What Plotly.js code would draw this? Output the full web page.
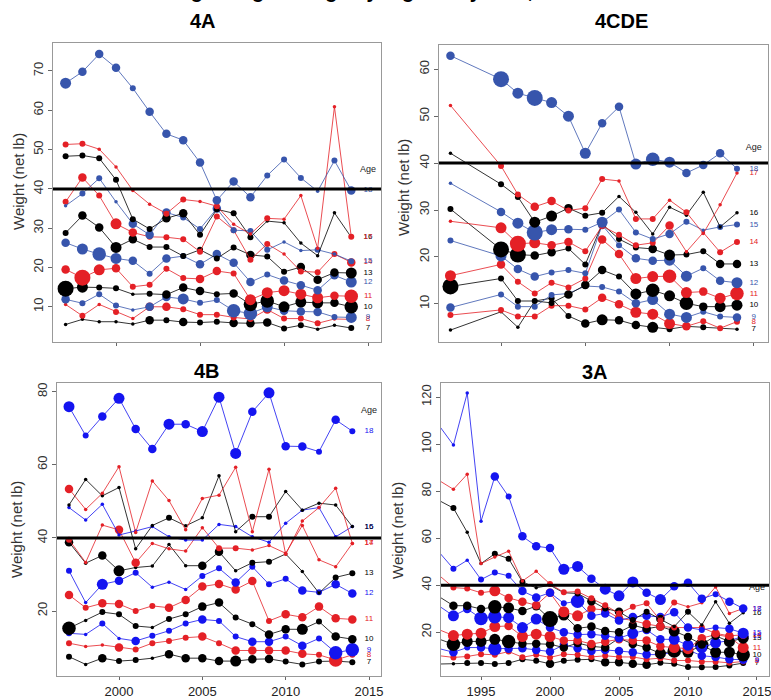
<!DOCTYPE html>
<html><head><meta charset="utf-8">
<script src="https://cdn.plot.ly/plotly-3.0.1.min.js"></script>
<style>html,body{margin:0;padding:0;background:#fff;}#chart{width:771px;height:700px;}</style>
</head><body><div id="chart"></div>
<script>
// ---------------- DATA ----------------
const ages = [7, 8, 9, 10, 11, 12, 13, 14, 15, 16, 17, 18];

const years4A = [1997,1998,1999,2000,2001,2002,2003,2004,2005,2006,2007,2008,2009,2010,2011,2012,2013,2014];
const years4CDE = [1997,2000,2001,2002,2003,2004,2005,2006,2007,2008,2009,2010,2011,2012,2013,2014];
const years4B = [1997,1998,1999,2000,2001,2002,2003,2004,2005,2006,2007,2008,2009,2010,2011,2012,2013,2014];
const years3A = [1992,1993,1994,1995,1996,1997,1998,1999,2000,2001,2002,2003,2004,2005,2006,2007,2008,2009,2010,2011,2012,2013,2014];

// weights (net lb), one row per age 7..18
const weight4A = [
  [5.5,6.8,6.2,6.2,5.6,6.6,6.6,6.1,6.0,6.2,5.9,5.8,6.0,4.5,5.3,4.3,5.3,4.6],
  [10.6,7.7,10.6,8.7,7.0,10.0,10.0,9.4,8.0,8.0,7.3,6.9,9.3,7.0,7.0,5.8,6.9,6.8],
  [11.9,10.9,13.2,10.3,9.2,10.0,12.5,12.0,11.0,11.7,9.0,8.3,10.0,9.0,8.8,8.7,7.4,7.3],
  [14.6,15.0,14.9,14.7,13.2,13.3,13.1,14.9,14.0,13.2,13.4,10.6,11.5,10.0,11.2,11.0,11.0,10.0],
  [19.5,17.4,19.4,19.8,15.1,15.6,19.7,17.3,17.1,19.1,18.5,11.8,13.6,14.1,13.2,12.3,12.8,12.7],
  [26.3,24.7,23.4,22.3,21.7,18.4,22.3,22.9,20.8,23.4,21.2,16.3,18.2,16.7,15.5,14.2,18.0,16.3],
  [28.8,33.2,30.2,25.1,27.2,25.2,25.2,22.9,24.5,22.3,25.1,23.2,22.8,18.9,20.1,16.9,18.7,18.6],
  [36.7,42.9,38.3,31.1,28.9,27.8,27.7,27.2,24.0,33.0,29.5,22.0,26.0,23.4,19.0,18.8,23.4,21.3],
  [35.7,38.8,42.7,36.7,31.1,28.3,34.0,32.7,29.8,35.0,29.5,29.3,24.5,26.5,24.3,24.5,23.4,21.6],
  [48.3,48.5,47.8,42.3,32.3,29.8,32.5,33.8,28.3,34.8,33.8,27.7,31.8,31.4,26.2,23.0,33.9,27.7],
  [51.3,51.5,50.1,45.6,39.6,36.1,33.7,37.3,36.8,35.6,31.0,28.5,32.5,32.3,38.3,24.9,60.9,27.8],
  [66.9,69.8,74.3,70.8,65.6,59.6,54.0,52.4,46.7,37.1,41.9,37.9,43.4,47.5,42.8,39.4,47.2,39.6]
];
const weight4CDE = [
  [4.4,8.3,5.0,10.6,11.2,7.4,5.8,6.6,6.5,5.5,5.0,4.6,5.2,5.0,4.8,4.6],
  [7.6,8.7,7.3,7.3,9.6,9.6,8.8,11.3,9.9,8.2,7.8,5.8,5.2,6.3,4.8,6.2],
  [9.2,12.0,9.4,9.4,11.9,12.2,13.8,13.6,12.6,10.1,10.9,7.8,7.1,8.3,7.3,7.1],
  [13.7,15.4,10.6,10.6,10.2,12.0,14.0,17.2,15.8,12.1,12.9,11.7,10.1,9.4,9.4,9.7],
  [16.0,18.4,14.7,12.2,14.5,13.5,15.4,23.7,20.6,15.4,15.8,15.9,12.4,12.6,11.2,12.2],
  [23.5,20.2,17.4,15.8,16.7,17.2,16.5,26.8,22.5,19.7,19.2,19.3,15.9,17.6,14.9,14.5],
  [30.2,21.6,20.5,20.3,21.0,21.8,18.4,27.0,23.8,22.0,21.7,20.4,20.5,21.2,18.5,18.5],
  [27.6,26.2,22.8,23.0,22.5,23.2,21.2,26.6,24.7,22.5,23.0,26.7,21.1,25.2,21.0,23.2],
  [35.7,29.6,27.2,25.2,25.8,25.9,25.8,27.4,30.1,25.2,23.8,24.9,27.5,25.7,26.4,26.9],
  [42.1,35.5,32.8,27.4,28.7,30.4,28.8,29.4,32.9,29.5,24.9,30.6,28.9,33.8,26.4,29.4],
  [52.3,39.4,33.3,30.7,31.9,29.9,30.4,36.6,36.2,28.1,28.1,32.1,29.5,25.0,31.1,37.9],
  [62.9,57.9,54.9,53.9,52.9,50.0,42.1,48.5,52.0,39.8,40.8,40.2,37.9,39.6,42.1,38.8]
];
const weight4B = [
  [7.5,5.4,7.1,6.3,6.6,7.1,8.2,7.1,7.1,6.3,6.3,6.8,6.9,6.2,5.4,6.2,6.3,6.0],
  [11.2,10.3,10.7,10.0,9.5,11.2,11.8,12.7,13.0,11.2,9.2,9.2,9.2,9.2,8.3,8.0,6.6,8.0],
  [13.9,13.6,16.6,12.5,11.8,13.2,14.6,16.6,17.7,17.3,13.0,11.6,11.6,13.0,10.5,12.5,8.6,9.4],
  [15.3,17.4,19.7,19.1,15.9,15.5,17.8,19.1,21.2,22.3,18.2,16.4,13.6,15.0,15.0,17.1,13.0,12.3],
  [24.4,20.9,22.1,21.9,20.0,21.4,20.9,23.0,26.7,27.4,25.9,28.2,17.3,19.1,18.3,21.2,18.0,17.7],
  [31.0,22.3,27.3,28.3,30.5,26.5,27.9,25.9,29.6,31.7,27.8,32.1,27.3,28.8,25.6,25.1,27.3,24.8],
  [38.8,33.1,35.2,31.0,31.9,32.3,38.2,32.4,32.4,36.2,31.0,33.2,33.5,35.6,30.8,24.9,29.2,30.3],
  [39.5,33.3,43.5,42.2,33.2,38.5,37.0,36.4,42.8,37.2,37.2,36.7,37.9,35.8,43.4,34.0,32.1,38.5],
  [48.3,44.9,49.2,40.8,41.9,43.1,40.3,39.4,39.4,43.7,43.1,40.3,38.8,44.0,47.6,48.3,40.3,43.1],
  [49.0,56.0,51.5,53.8,37.0,43.4,45.5,43.3,45.5,57.0,41.7,45.8,45.8,52.7,47.6,49.5,49.0,43.1],
  [53.4,47.8,52.2,59.5,41.5,55.6,50.2,42.2,50.8,51.7,59.3,41.7,58.8,35.5,44.6,48.3,53.6,38.5],
  [75.9,68.0,73.2,78.2,69.8,64.3,71.1,71.1,69.1,78.5,63.1,74.5,79.7,65.1,65.0,63.6,72.3,69.2]
];
const weight3A = [
  [6.5,6.6,6.9,6.9,6.5,6.9,8.5,7.9,6.6,7.9,8.3,8.5,7.2,7.2,6.6,6.2,7.0,6.6,5.2,5.1,5.2,5.9,6.9],
  [10.0,9.3,9.7,10.7,10.4,11.8,9.4,10.4,9.3,10.7,10.4,9.5,10.0,9.5,9.5,8.5,9.0,8.0,8.0,7.5,7.5,7.0,7.6],
  [13.0,11.5,13.5,13.5,13.0,13.0,13.2,12.5,11.8,14.6,13.2,12.0,12.5,12.0,11.5,10.5,10.5,11.5,12.5,10.0,9.5,8.5,8.3],
  [17.0,14.9,16.1,16.1,17.0,16.1,15.1,15.1,14.9,13.5,15.4,14.0,13.5,17.5,15.0,13.5,11.0,12.0,11.5,14.5,11.5,11.5,10.4],
  [21.0,18.6,19.2,19.6,22.4,22.7,18.2,19.2,18.2,16.5,16.5,15.0,16.0,17.0,16.5,16.5,14.0,13.5,13.0,17.5,19.0,18.0,13.5],
  [31.0,27.0,29.9,25.9,26.6,26.2,22.0,25.6,22.0,20.0,19.0,19.2,18.5,17.5,19.5,21.0,17.0,17.0,14.5,13.5,15.5,16.5,18.2],
  [35.0,31.3,31.3,29.9,30.8,30.4,29.0,31.1,25.6,27.3,21.7,22.4,20.5,20.0,23.0,21.5,22.5,20.5,18.0,14.8,18.5,16.0,17.5],
  [44.0,39.0,38.6,36.8,37.6,34.6,33.0,31.5,36.8,28.7,27.0,30.0,29.5,26.0,25.0,23.5,22.5,22.0,22.0,22.0,19.5,18.5,18.9],
  [53.8,47.0,50.6,42.4,45.4,44.0,37.5,34.8,36.8,32.3,33.2,27.0,28.0,25.0,26.5,27.0,26.5,28.5,22.0,21.0,22.0,21.5,19.6],
  [75.9,72.8,62.5,49.2,53.4,51.3,41.4,38.9,40.0,36.8,36.5,33.2,30.1,28.7,25.2,28.7,25.6,22.4,28.7,23.1,33.0,23.8,28.3],
  [84.4,80.8,87.2,49.2,52.0,54.5,41.8,45.9,40.5,37.0,37.3,34.5,31.5,28.0,30.8,32.3,25.0,32.7,30.8,32.5,39.3,28.0,30.1],
  [107.6,99.6,121.7,67.2,86.2,77.7,60.8,56.6,55.8,46.8,48.0,42.8,38.3,35.5,41.4,36.8,33.9,39.6,41.1,34.3,36.2,33.0,30.1]
];

// relative abundance class of each point (1 = smallest symbol ... 6 = largest)
const abund4A = [
  [1,1,1,1,1,3,2,3,2,2,3,3,3,2,2,1,1,2],
  [1,2,1,2,1,3,3,2,2,2,2,2,3,2,2,2,1,2],
  [3,2,2,2,1,3,3,4,2,2,5,5,4,3,3,3,2,4],
  [6,4,2,2,1,2,3,3,3,2,3,5,5,4,4,4,3,5],
  [3,6,4,3,2,2,2,2,3,3,2,4,4,4,4,4,3,5],
  [3,4,5,4,3,2,3,2,3,3,3,3,2,3,3,3,3,4],
  [2,3,3,4,3,2,2,2,2,2,2,3,2,2,3,3,3,4],
  [2,3,2,4,3,2,2,2,2,2,2,2,2,1,2,2,2,3],
  [1,2,2,1,3,3,3,2,2,3,2,2,2,1,1,2,1,2],
  [2,2,2,2,2,2,3,3,2,2,2,2,1,1,1,1,1,1],
  [2,2,1,1,1,1,2,2,1,2,1,1,2,1,1,1,1,2],
  [4,3,3,3,2,3,3,3,3,3,3,3,2,2,2,1,2,3]
];
const abund4CDE = [
  [1,1,1,1,2,2,3,4,3,3,4,2,2,2,1,1],
  [2,2,2,2,2,2,2,3,3,4,4,4,3,2,2,2],
  [3,2,2,2,2,2,2,2,2,3,4,4,4,2,2,3],
  [6,2,2,2,2,3,3,3,2,4,5,4,5,3,4,4],
  [4,3,2,2,2,2,2,3,3,4,4,5,4,3,4,5],
  [2,4,3,3,2,2,2,3,2,3,3,4,4,2,3,4],
  [2,6,6,3,3,2,2,2,2,2,3,4,2,2,3,3],
  [1,4,6,4,3,3,2,2,2,2,2,3,1,1,2,2],
  [1,3,4,6,4,3,2,4,2,2,2,3,2,1,2,2],
  [1,2,2,4,4,3,2,2,1,1,1,1,1,1,1,1],
  [1,2,2,3,3,2,2,2,1,2,2,1,2,1,1,1],
  [3,6,4,6,4,4,4,3,3,4,5,4,3,3,3,2]
];
const abund4B = [
  [2,1,3,2,2,1,3,3,3,3,4,3,3,2,2,2,2,2],
  [2,1,1,3,2,2,2,2,3,2,3,3,3,3,3,2,5,2],
  [2,1,2,1,3,2,2,2,3,2,2,3,3,2,3,2,5,5],
  [5,1,2,2,2,1,2,2,3,3,2,2,3,3,4,2,3,3],
  [3,2,3,3,2,2,3,3,3,3,3,3,2,3,3,3,3,3],
  [2,1,4,3,2,1,1,1,2,2,3,2,2,2,3,2,3,3],
  [3,1,3,4,1,1,1,1,3,3,1,2,2,1,1,1,2,2],
  [2,1,1,3,3,1,1,1,1,2,2,1,1,1,1,1,1,1],
  [1,1,1,1,1,1,1,1,1,1,1,1,1,1,1,1,1,1],
  [1,1,1,1,1,1,2,1,1,1,1,2,2,1,1,1,1,1],
  [3,1,1,1,1,1,1,1,1,1,1,1,1,1,1,1,1,1],
  [4,2,3,4,3,3,4,3,4,4,4,3,4,3,3,2,3,2]
];
const abund3A = [
  [1,1,2,2,2,2,2,2,3,2,2,2,3,3,3,3,2,2,2,2,2,2,2],
  [1,2,2,2,2,2,2,2,2,2,2,2,2,2,2,2,2,2,2,2,2,2,2],
  [2,3,2,3,5,3,3,3,3,3,3,3,3,3,3,3,3,3,3,3,3,3,3],
  [2,5,4,4,4,5,3,3,3,3,3,3,3,3,3,3,4,5,4,5,4,4,5],
  [2,4,4,4,4,3,4,4,4,3,3,3,3,3,3,3,3,4,4,3,3,3,4],
  [2,4,3,5,5,4,4,4,3,3,3,3,3,3,4,3,3,4,4,4,4,3,4],
  [2,3,3,3,5,4,3,3,6,4,3,3,3,3,3,3,3,4,3,3,3,4,4],
  [2,2,2,2,4,3,3,3,3,4,4,3,3,3,2,3,3,2,2,2,3,3,3],
  [1,2,1,2,2,2,3,3,3,2,5,3,3,3,3,3,3,3,3,2,2,3,4],
  [1,2,1,1,2,2,2,1,1,1,2,3,2,3,2,2,3,1,2,1,1,1,1],
  [1,1,1,1,1,1,1,1,2,2,2,2,2,2,2,2,2,2,1,1,1,1,1],
  [1,1,1,1,3,2,3,3,3,4,4,3,4,4,4,3,4,3,3,3,2,3,3]
];

const panelTitles = ['4A', '4CDE', '4B', '3A'];
const axisTitle = 'Weight (net lb)';
const mainTitle = 'Average weight-at-age by regulatory area, 1997-2014';

// ---------------- STYLE / LAYOUT ----------------
const sizePx = [0, 3.5, 6, 8.5, 11, 13.5, 16];
const RED = 'rgb(228,32,38)';
const BLK = 'rgb(0,0,0)';
const panels = [
  {years: years4A, w: weight4A, s: abund4A, blue: 'rgb(55,85,172)', dom: [53,381,43,342], xr: [1996.25,2015.77], yr: [1.04,77.12], yt: [10,20,30,40,50,60,70], xt: [2000,2005,2010,2015], xlab: false, ageY: 44.8, tpos: [203,21], ypos: [18,182]},
  {years: years4CDE, w: weight4CDE, s: abund4CDE, blue: 'rgb(55,85,172)', dom: [439,768,45,342], xr: [1996.32,2015.84], yr: [1.86,65.18], yt: [10,20,30,40,50,60], xt: [2000,2005,2010,2015], xlab: false, ageY: 43.2, tpos: [621,21], ypos: [403,188]},
  {years: years4B, w: weight4B, s: abund4B, blue: 'rgb(20,20,240)', dom: [57,381,383,676], xr: [1996.28,2015.72], yr: [2.22,82.38], yt: [20,40,60,80], xt: [2000,2005,2010,2015], xlab: true, ageY: 74.7, tpos: [207,371], ypos: [16,530]},
  {years: years3A, w: weight3A, s: abund3A, blue: 'rgb(20,20,240)', dom: [441,769,383,676], xr: [1992.1,2015.87], yr: [1.4,126.0], yt: [20,40,60,80,100,120], xt: [1995,2000,2005,2010,2015], xlab: true, ageY: 38.9, tpos: [595,372], ypos: [397,530]}
];
const W = 771, H = 700;
const traces = [];
const layout = {
  width: W, height: H, margin: {l:0, r:0, t:0, b:0},
  paper_bgcolor: '#fff', plot_bgcolor: '#fff', showlegend: false,
  font: {family: 'Liberation Sans, Arial, sans-serif', color: '#222'},
  annotations: [], shapes: []
};

panels.forEach((p, k) => {
  const n = k + 1;
  const xa = 'x' + n, ya = 'y' + n;
  const colorFor = i => [BLK, RED, p.blue][i % 3];
  p.w.forEach((vals, i) => {
    const c = colorFor(i);
    traces.push({
      type: 'scatter', mode: 'lines+markers', x: p.years, y: vals,
      xaxis: xa, yaxis: ya, cliponaxis: true,
      line: {color: c, width: 0.8},
      marker: {color: c, opacity: 1, size: vals.map((v, j) => sizePx[(p.s[i] && p.s[i][j]) || 1]), line: {width: 0}},
      hoverinfo: 'skip'
    });
  });
  // age labels at the end of each series
  traces.push({
    type: 'scatter', mode: 'text', xaxis: xa, yaxis: ya, cliponaxis: false,
    x: ages.map(() => 2015), y: p.w.map(v => v[v.length - 1]),
    text: ages.map(String),
    textfont: {size: 8, color: ages.map((a, i) => colorFor(i)), family: 'Liberation Sans, Arial, sans-serif'},
    textposition: 'middle center', hoverinfo: 'skip'
  });
  traces.push({
    type: 'scatter', mode: 'text', xaxis: xa, yaxis: ya, cliponaxis: false,
    x: [2015], y: [p.ageY], text: ['Age'],
    textfont: {size: 9, color: '#222'}, textposition: 'middle center', hoverinfo: 'skip'
  });
  const [x0, x1, y0, y1] = p.dom;
  layout['xaxis' + (n === 1 ? '' : n)] = {
    domain: [x0 / W, x1 / W], range: p.xr, anchor: ya,
    tickvals: p.xt, ticktext: p.xt.map(String), showticklabels: p.xlab,
    ticks: 'outside', ticklen: 3, tickcolor: '#666', tickwidth: 1,
    showline: true, mirror: true, linecolor: '#999', linewidth: 1,
    showgrid: false, zeroline: false, tickfont: {size: 13, color: '#222'},
    ticklabeloverflow: 'allow'
  };
  layout['yaxis' + (n === 1 ? '' : n)] = {
    domain: [1 - y1 / H, 1 - y0 / H], range: p.yr, anchor: xa,
    tickvals: p.yt, ticktext: p.yt.map(String), tickangle: -90,
    ticks: 'outside', ticklen: 4, tickcolor: '#666', tickwidth: 1,
    showline: true, mirror: true, linecolor: '#999', linewidth: 1,
    showgrid: false, zeroline: false, tickfont: {size: 13, color: '#333'},
    ticklabeloverflow: 'allow'
  };
  layout.shapes.push({type: 'line', xref: xa + ' domain', yref: ya, x0: 0, x1: 1, y0: 40, y1: 40,
    line: {color: '#000', width: 3}});
  layout.annotations.push({
    xref: 'paper', yref: 'paper', x: p.tpos[0] / W, y: 1 - p.tpos[1] / H,
    text: '<b>' + panelTitles[k] + '</b>', showarrow: false, xanchor: 'center', yanchor: 'middle',
    font: {size: 20, color: '#000', family: 'Liberation Sans, Arial, sans-serif'}
  });
  layout.annotations.push({
    xref: 'paper', yref: 'paper', x: p.ypos[0] / W, y: 1 - p.ypos[1] / H,
    text: axisTitle, textangle: -90, showarrow: false, xanchor: 'center', yanchor: 'middle',
    font: {size: 15, color: '#333'}
  });
});
layout.annotations.push({
  xref: 'paper', yref: 'paper', x: 0.5, y: 1, yanchor: 'bottom', yshift: -4, xanchor: 'center',
  text: '<b>' + mainTitle + '</b>', showarrow: false,
  font: {size: 20, color: '#000', family: 'Liberation Sans, Arial, sans-serif'}
});

Plotly.newPlot('chart', traces, layout, {staticPlot: true, displayModeBar: false});
</script>
</body></html>
